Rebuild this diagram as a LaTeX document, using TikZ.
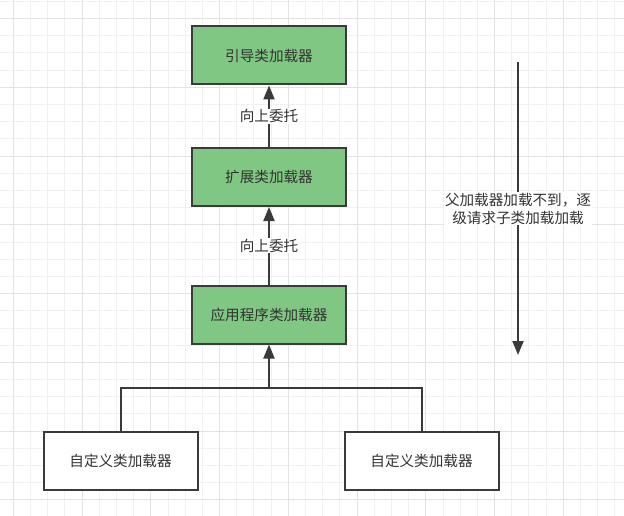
\documentclass[tikz,border=0pt]{standalone}
\usepackage{fontspec}
\setmainfont{Noto Sans CJK SC}
\usetikzlibrary{arrows.meta}
\definecolor{leaf}{HTML}{7FC782}
\definecolor{ink}{HTML}{333333}
\definecolor{edge}{HTML}{3A3A3A}
\definecolor{minorgrid}{HTML}{F1F1F1}
\definecolor{majorgrid}{HTML}{E3E3E3}
\tikzset{
  loader/.style={draw=edge, line width=2pt, minimum width=154pt, minimum height=58pt,
    inner sep=0pt, text=ink, font=\fontsize{14.6}{18}\selectfont},
  greenbox/.style={loader, fill=leaf},
  whitebox/.style={loader, fill=white},
  flow/.style={-{Triangle[length=14pt,width=11pt]}, edge, line width=2pt},
  wire/.style={edge, line width=2pt},
  lab/.style={fill=white, text=ink, inner sep=1pt, font=\fontsize{14.6}{18}\selectfont},
  minorline/.style={minorgrid, line width=1pt},
  majorline/.style={majorgrid, line width=1pt},
}
\begin{document}
\begin{tikzpicture}[x=1pt,y=-1pt]
  \useasboundingbox (0,0) rectangle (624,516);
  % background grid
  \fill[white] (0,0) rectangle (624,516);
  \foreach \i in {0,...,36}{
    \draw[minorline] ({-3.9+\i*17.19},0) -- ++(0,516);}
  \foreach \i in {0,...,30}{
    \draw[minorline] (0,{1.4+\i*17.19}) -- ++(624,0);}
  \foreach \i in {0,...,8}{
    \draw[majorline] ({13.3+\i*68.76},0) -- ++(0,516);}
  \foreach \i in {0,...,7}{
    \draw[majorline] (0,{18.6+\i*68.76}) -- ++(624,0);}

  % loaders
  \node[greenbox] (boot) at (269,55.5) {引导类加载器};
  \node[greenbox] (ext) at (269,177) {扩展类加载器};
  \node[greenbox] (app) at (269,314.5) {应用程序类加载器};
  \node[whitebox] (custa) at (120.5,461) {自定义类加载器};
  \node[whitebox] (custb) at (421.5,461) {自定义类加载器};

  % delegation upwards
  \draw[flow] (ext) -- (boot) node[lab, midway] {向上委托};
  \draw[flow] (app) -- (ext) node[lab, midway] {向上委托};
  \coordinate (join) at (269,388);
  \draw[wire] (custa.north) |- (join) -| (custb.north);
  \draw[flow] (join) -- (app);

  % loading downwards
  \coordinate (dtop) at (518,62);
  \coordinate (dbot) at (518,355);
  \draw[flow] (dtop) -- (dbot) node[lab, midway, align=center] {父加载器加载不到，逐\\级请求子类加载加载};
\end{tikzpicture}
\end{document}
